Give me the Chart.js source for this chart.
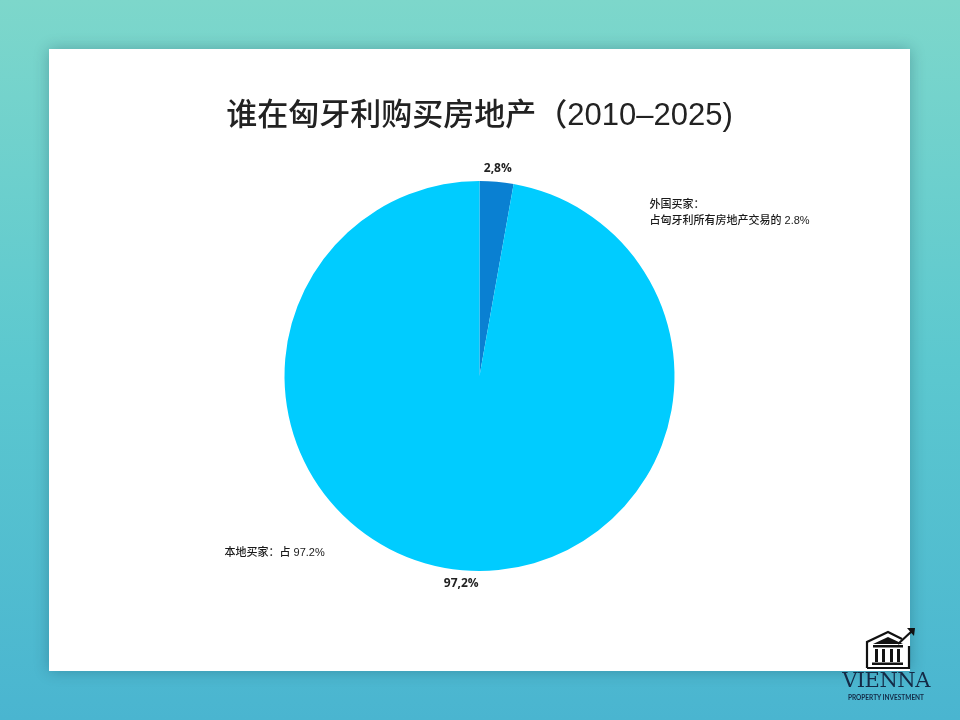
<!DOCTYPE html>
<html><head><meta charset="utf-8">
<script src="https://cdn.jsdelivr.net/npm/chart.js@4/dist/chart.umd.min.js"></script>
<style>
html,body{margin:0;padding:0;width:960px;height:720px;overflow:hidden;}
body{background:linear-gradient(180deg,#7dd7cb 0%,#5cc8cf 50%,#4ab5d0 100%);position:relative;font-family:"Noto Sans CJK SC","Noto Sans",sans-serif;}
#card{position:absolute;left:49px;top:49px;width:861px;height:622px;background:#fff;box-shadow:0 0 14px rgba(0,40,60,0.28);}
#logo{position:absolute;left:836px;top:624px;width:100px;height:96px;}
#logo .v{position:absolute;left:0;top:44px;width:100px;text-align:center;font-family:"DejaVu Serif","Liberation Serif",serif;font-size:21px;color:#142a46;letter-spacing:-0.5px;}
#logo .p{position:absolute;left:0;top:70px;width:100px;text-align:center;font-family:Lato,"Noto Sans",sans-serif;font-weight:bold;font-size:6.5px;color:#142a46;}
</style></head>
<body>
<div id="card"><canvas id="c" width="861" height="622"></canvas></div>
<div id="logo">
<svg width="100" height="46" style="position:absolute;left:0;top:0">
 <g fill="none" stroke="#111" stroke-width="2.2">
  <path d="M31 44 L31 18 L52 8 L66 15"/>
  <path d="M31 44 L73 44 L73 22"/>
  <path d="M62 20 L76 7"/>
 </g>
 <path d="M71 4 L79 4 L78 12 Z" fill="#111"/>
 <path d="M37 20 L52 13 L67 20 Z" fill="#111"/>
 <rect x="37" y="21" width="30" height="2.5" fill="#111"/>
 <rect x="39" y="25" width="3" height="13" fill="#111"/>
 <rect x="46" y="25" width="3" height="13" fill="#111"/>
 <rect x="54" y="25" width="3" height="13" fill="#111"/>
 <rect x="61" y="25" width="3" height="13" fill="#111"/>
 <rect x="36" y="38.5" width="31" height="2.5" fill="#111"/>
</svg>
<div class="v">VIENNA</div>
<div class="p">PROPERTY INVESTMENT</div>
</div>
<script>
const titleText = "谁在匈牙利购买房地产（2010–2025)";
const categories = ["外国买家", "本地买家"];
const values = [2.8, 97.2];
const valueLabels = ["2,8%", "97,2%"];
const noteForeign = ["外国买家：", "占匈牙利所有房地产交易的 2.8%"];
const noteLocal = ["本地买家：占 97.2%"];
const colors = ["#0a80d2", "#00ccff"];

const overlay = {
  id: 'overlay',
  afterDraw(chart) {
    const ctx = chart.ctx;
    ctx.save();
    // title
    ctx.fillStyle = '#222';
    ctx.font = '500 31px "Liberation Sans", "Noto Sans CJK SC", sans-serif';
    ctx.textAlign = 'center';
    ctx.textBaseline = 'middle';
    ctx.fillText(titleText, chart.width / 2, 67);
    // value labels
    const meta = chart.getDatasetMeta(0);
    ctx.font = 'bold 12px "Open Sans", "Noto Sans", sans-serif';
    ctx.fillStyle = '#222';
    meta.data.forEach((arc, i) => {
      const p = arc.getProps(['x','y','startAngle','endAngle','outerRadius'], true);
      const mid = (p.startAngle + p.endAngle) / 2;
      const r = p.outerRadius + 13;
      ctx.fillText(valueLabels[i], p.x + Math.cos(mid) * r, p.y + Math.sin(mid) * r);
    });
    // notes
    ctx.font = '500 11px "Liberation Sans", "Noto Sans CJK SC", sans-serif';
    ctx.textAlign = 'left';
    ctx.fillStyle = '#1a1a1a';
    const p0 = meta.data[0].getProps(['x','y','outerRadius'], true);
    noteForeign.forEach((t, k) => ctx.fillText(t, p0.x + 170, p0.y - 171 + k * 16));
    noteLocal.forEach((t, k) => ctx.fillText(t, p0.x - 255, p0.y + 177 + k * 16));
    ctx.restore();
  }
};

new Chart(document.getElementById('c'), {
  type: 'pie',
  data: {
    labels: categories,
    datasets: [{ data: values, backgroundColor: colors, borderWidth: 0 }]
  },
  options: {
    responsive: false,
    animation: false,
    layout: { padding: { top: 132, bottom: 100, left: 0, right: 0 } },
    plugins: { legend: { display: false }, title: { display: false }, tooltip: { enabled: false } }
  },
  plugins: [overlay]
});
</script>
</body></html>
